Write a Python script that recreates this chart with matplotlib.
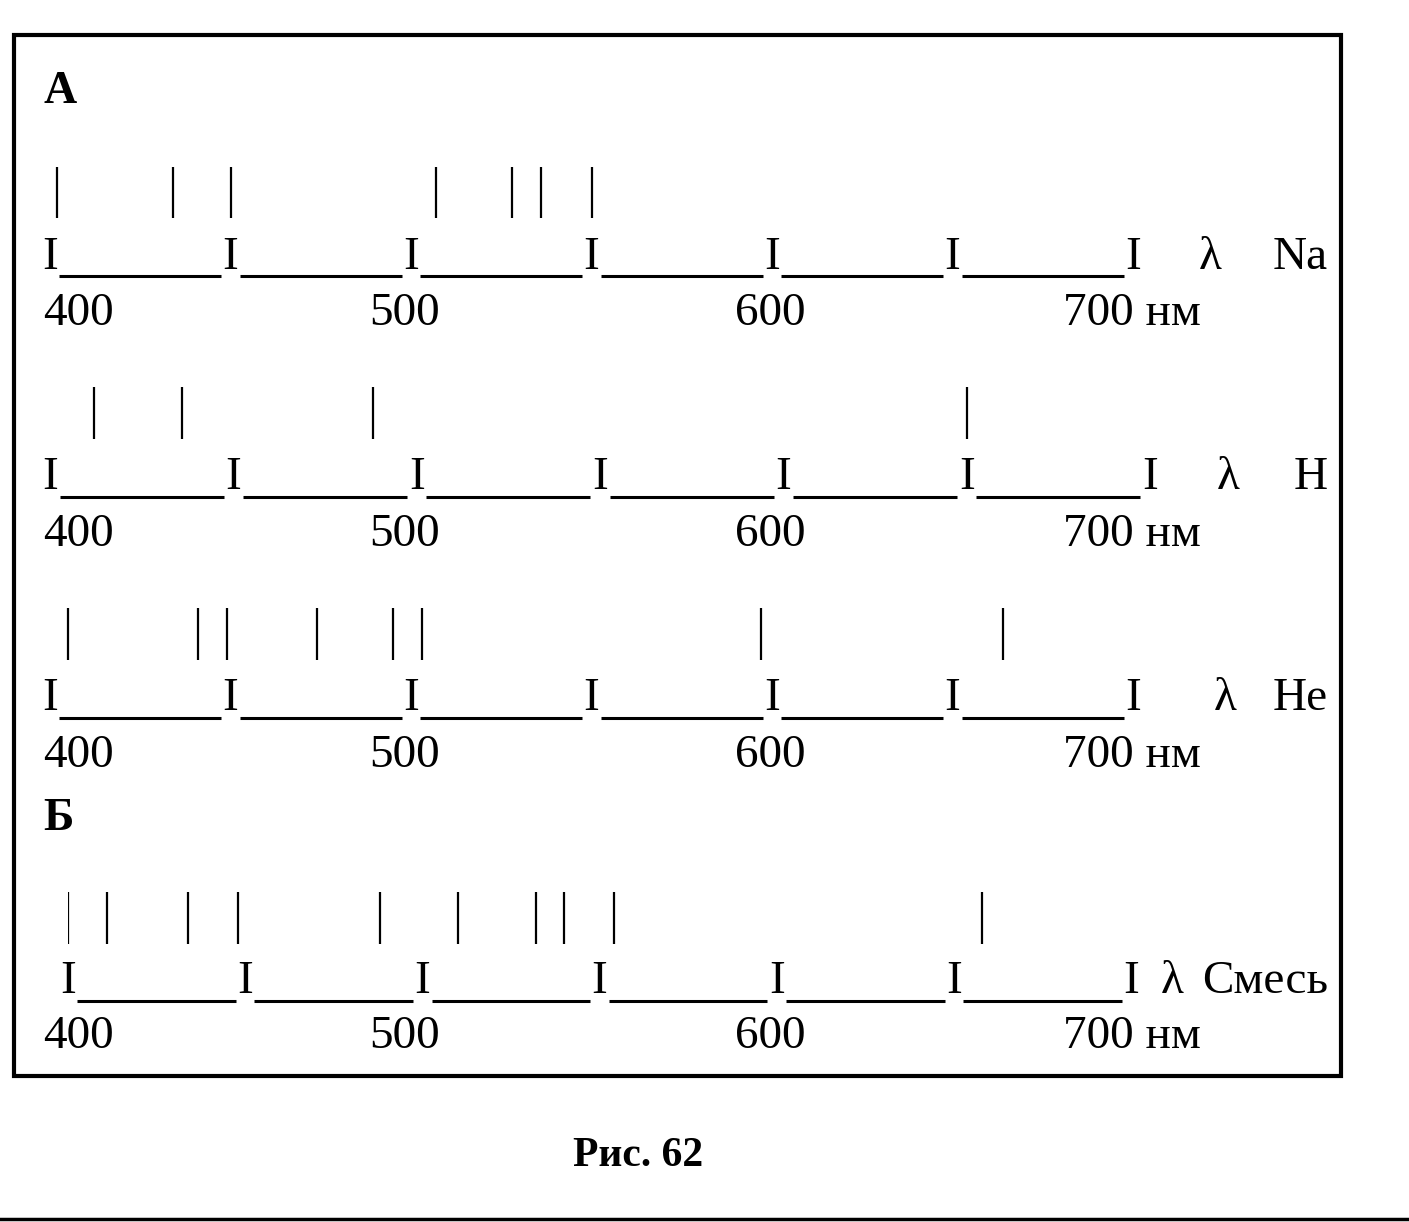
import numpy as np
import matplotlib
matplotlib.use("Agg")
import matplotlib.pyplot as plt
from matplotlib.patches import Rectangle

# spectral lines (nm)
na_lines = [402, 434, 450, 507, 528, 536, 550]
h_lines = [412, 436, 488, 650]
he_lines = [405, 441, 449, 474, 495, 503, 597, 664]
mix_lines = [400, 411, 434, 448, 488, 510, 532, 540, 554, 658]

row_names = ["Na", "H", "He", "Смесь"]
scale_ticks = [400, 450, 500, 550, 600, 650, 700]
tick_labels = ["400", "500", "600", "700 нм"]

plt.rcParams['font.family'] = ['Liberation Serif', 'DejaVu Serif']

W, H = 1409, 1222
fig = plt.figure(figsize=(W / 100, H / 100), dpi=100)

# whole page in pixel coords: frame, captions, tick labels
page = fig.add_axes([0, 0, 1, 1])
page.set_xlim(0, W)
page.set_ylim(H, 0)
page.axis("off")

page.add_patch(Rectangle((14, 35), 1327, 1041, fill=False, lw=3, edgecolor="k"))
page.plot([0, W], [1219, 1219], color="k", lw=2.5)
page.text(43, 103, "А", fontsize=33, fontweight="bold", va="baseline")
page.text(43, 830, "Б", fontsize=33, fontweight="bold", va="baseline")
page.text(638, 1166, "Рис. 62", fontsize=30, fontweight="bold",
          ha="center", va="baseline")

# per row: lines, px of 400 nm, px of 700 nm, line top, line bottom,
# baseline of the I marks, underline y, label baseline, lambda x
rows = [
    (na_lines, 50, 1133, 167, 218, 269, 276, 325, 1210),
    (h_lines, 50, 1150, 387, 439, 489, 497, 546, 1228),
    (he_lines, 50, 1133, 608, 660, 710, 718, 767, 1225),
    (mix_lines, 68, 1131, 892, 944, 993, 1001, 1048, 1172),
]

label_x = [43, 405, 770, 1063]
label_ha = ["left", "center", "center", "left"]
fs = 34

for (lines, x400, x700, top, bot, base_y, under_y, lab_y, lam_x), name in zip(rows, row_names):
    ax = fig.add_axes([x400 / W, 0, (x700 - x400) / W, 1])
    ax.set_xlim(400, 700)
    ax.set_ylim(H, 0)
    ax.axis("off")
    ax.patch.set_alpha(0)

    # emission lines
    ax.vlines(lines, top, bot, color="k", lw=1.6)

    # the "I_____I_____I" scale
    ticks = np.array(scale_ticks)
    for t in ticks:
        ax.text(t, base_y, "I", fontsize=fs, ha="center", va="baseline")
    ax.hlines([under_y] * (len(ticks) - 1), ticks[:-1] + 2.6, ticks[1:] - 2.6,
              color="k", lw=2.2)

    # tick labels, lambda and element name
    for lab, lx, ha in zip(tick_labels, label_x, label_ha):
        page.text(lx, lab_y, lab, fontsize=fs, ha=ha, va="baseline")
    page.text(lam_x, base_y, "λ", fontsize=fs, ha="center", va="baseline")
    page.text(1328, base_y, name, fontsize=fs, ha="right", va="baseline")

fig.savefig("out.png", dpi=100)
